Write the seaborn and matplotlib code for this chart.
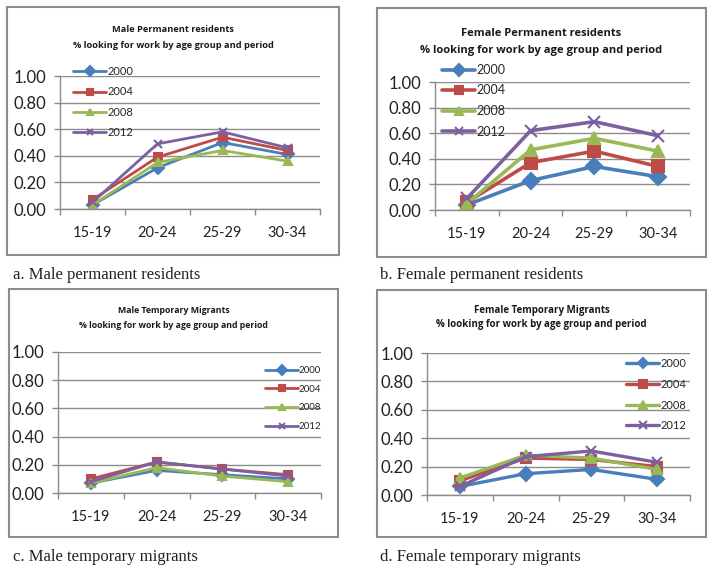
import numpy as np
import pandas as pd
import matplotlib
matplotlib.use('Agg')
import matplotlib.pyplot as plt
from matplotlib.patches import Rectangle
from matplotlib.ticker import FormatStrFormatter, FixedLocator
import seaborn as sns

# data
ages = ['15-19', '20-24', '25-29', '30-34']
periods = ['2000', '2004', '2008', '2012']

male_perm = [[0.03, 0.31, 0.50, 0.41],
             [0.07, 0.39, 0.54, 0.44],
             [0.03, 0.35, 0.44, 0.36],
             [0.05, 0.49, 0.58, 0.46]]
female_perm = [[0.04, 0.23, 0.34, 0.26],
               [0.06, 0.37, 0.46, 0.34],
               [0.05, 0.47, 0.56, 0.46],
               [0.09, 0.62, 0.69, 0.58]]
male_temp = [[0.07, 0.16, 0.13, 0.10],
             [0.10, 0.22, 0.17, 0.13],
             [0.07, 0.18, 0.12, 0.08],
             [0.08, 0.22, 0.17, 0.12]]
female_temp = [[0.06, 0.15, 0.18, 0.11],
               [0.10, 0.26, 0.25, 0.20],
               [0.12, 0.28, 0.26, 0.18],
               [0.06, 0.27, 0.31, 0.23]]

titles = ['Male Permanent residents', 'Female Permanent residents',
          'Male Temporary Migrants', 'Female Temporary Migrants']
subtitle = '% looking for work by age group and period'
captions = ['a. Male permanent residents', 'b. Female permanent residents',
            'c. Male temporary migrants', 'd. Female temporary migrants']

colors = ['#4A7EBB', '#BE4B48', '#98B954', '#7D60A0']
markers = ['D', 's', '^', 'x']

W, H = 714, 573
sns.set_style('white')
plt.rcParams['font.family'] = ['Lato', 'DejaVu Sans']

fig = plt.figure(figsize=(W / 100, H / 100), dpi=100)
renderer = fig.canvas.get_renderer()


def fx(x):
    return x / W


def fy(y):
    return 1 - y / H


# layout in pixels: frame, plot area, title rows, subtitle width, legend, caption
layout = [
    dict(frame=(7, 7, 339, 255), plot=(60, 76, 320, 209), t=(30, 46), tw=200,
         leg=(73, 66), lsize=8, lspace=0.85, caption=(13, 275), msize=6, lw=2.0),
    dict(frame=(377, 8, 706, 257), plot=(435, 82, 690, 210), t=(33, 51), tw=241,
         leg=(442, 64), lsize=9, lspace=0.68, caption=(380, 275), msize=8, lw=2.6),
    dict(frame=(9, 289, 338, 537), plot=(58, 352, 321, 493), t=(310, 325), tw=190,
         leg=(265, 366), lsize=7, lspace=1.0, caption=(13, 557), msize=6, lw=2.0),
    dict(frame=(377, 290, 706, 537), plot=(427, 353, 690, 495), t=(310, 325), tw=212,
         leg=(626, 358), lsize=8, lspace=0.88, caption=(380, 557), msize=7, lw=2.4),
]

for vals, title, cap, lay in zip([male_perm, female_perm, male_temp, female_temp],
                                 titles, captions, layout):
    x0, y0, x1, y1 = lay['frame']
    fig.patches.append(Rectangle((fx(x0), fy(y1)), fx(x1 - x0), (y1 - y0) / H,
                                 transform=fig.transFigure, fill=False,
                                 edgecolor='#8c8c8c', lw=1.5))
    cx = fx((x0 + x1) / 2)
    sub = fig.text(cx, fy(lay['t'][1]), subtitle, ha='center', va='center',
                   fontsize=7, fontweight='bold', family='Open Sans', color='#1a1a1a')
    # scale the heading so its width matches the picture
    tsize = 7 * lay['tw'] / sub.get_window_extent(renderer).width
    sub.set_fontsize(tsize)
    fig.text(cx, fy(lay['t'][0]), title, ha='center', va='center',
             fontsize=tsize, fontweight='bold', family='Open Sans', color='#1a1a1a')
    fig.text(fx(lay['caption'][0]), fy(lay['caption'][1]), cap, ha='left', va='center',
             fontsize=12, family='Liberation Serif', color='#222222')

    l, t, r, b = lay['plot']
    ax = fig.add_axes([fx(l), fy(b), fx(r - l), (b - t) / H])

    df = pd.DataFrame({
        'age': np.tile(ages, len(periods)),
        'period': np.repeat(periods, len(ages)),
        'share': np.array(vals).ravel(),
    })
    for p, c, m in zip(periods, colors, markers):
        sns.lineplot(data=df[df['period'] == p], x='age', y='share', color=c,
                     marker=m, markersize=lay['msize'], markeredgecolor=c,
                     markeredgewidth=1.5, lw=lay['lw'], ax=ax, sort=False, label=p)

    ax.set_xlim(-0.5, 3.5)
    ax.set_ylim(0, 1)
    ax.set_yticks(np.arange(0, 1.01, 0.2))
    ax.yaxis.set_major_formatter(FormatStrFormatter('%.2f'))
    ax.set_xticks(range(len(ages)))
    ax.set_xticklabels(ages)
    ax.xaxis.set_minor_locator(FixedLocator(np.arange(-0.5, 3.6, 1)))
    ax.tick_params(axis='x', which='major', length=0, pad=12, labelsize=10.5,
                   labelcolor='#222222')
    ax.tick_params(axis='x', which='minor', length=4, width=1, color='#8c8c8c',
                   direction='out', bottom=True)
    ax.tick_params(axis='y', length=4, width=1, color='#8c8c8c', direction='out',
                   pad=6, labelsize=12, labelcolor='#222222', left=True)
    ax.grid(axis='y', color='#8c8c8c', lw=1)
    ax.set_axisbelow(True)
    ax.set_xlabel('')
    ax.set_ylabel('')
    for side in ['top', 'right']:
        ax.spines[side].set_visible(False)
    for side in ['left', 'bottom']:
        ax.spines[side].set_color('#8c8c8c')
        ax.spines[side].set_linewidth(1)
    ax.patch.set_alpha(0)

    handles, labels = ax.get_legend_handles_labels()
    fsz = lay['lsize'] * 100 / 72
    leg = ax.legend(handles, labels, loc='upper left',
                    bbox_to_anchor=(fx(lay['leg'][0]), fy(lay['leg'][1])),
                    bbox_transform=fig.transFigure, frameon=False,
                    fontsize=lay['lsize'], handlelength=33 / fsz, handletextpad=0.1,
                    borderpad=0, borderaxespad=0, labelspacing=lay['lspace'])
    for h in leg.legend_handles:
        h.set_markersize(lay['msize'] * 0.8)
        h.set_linewidth(lay['lw'])

fig.savefig('out.png', dpi=100)
